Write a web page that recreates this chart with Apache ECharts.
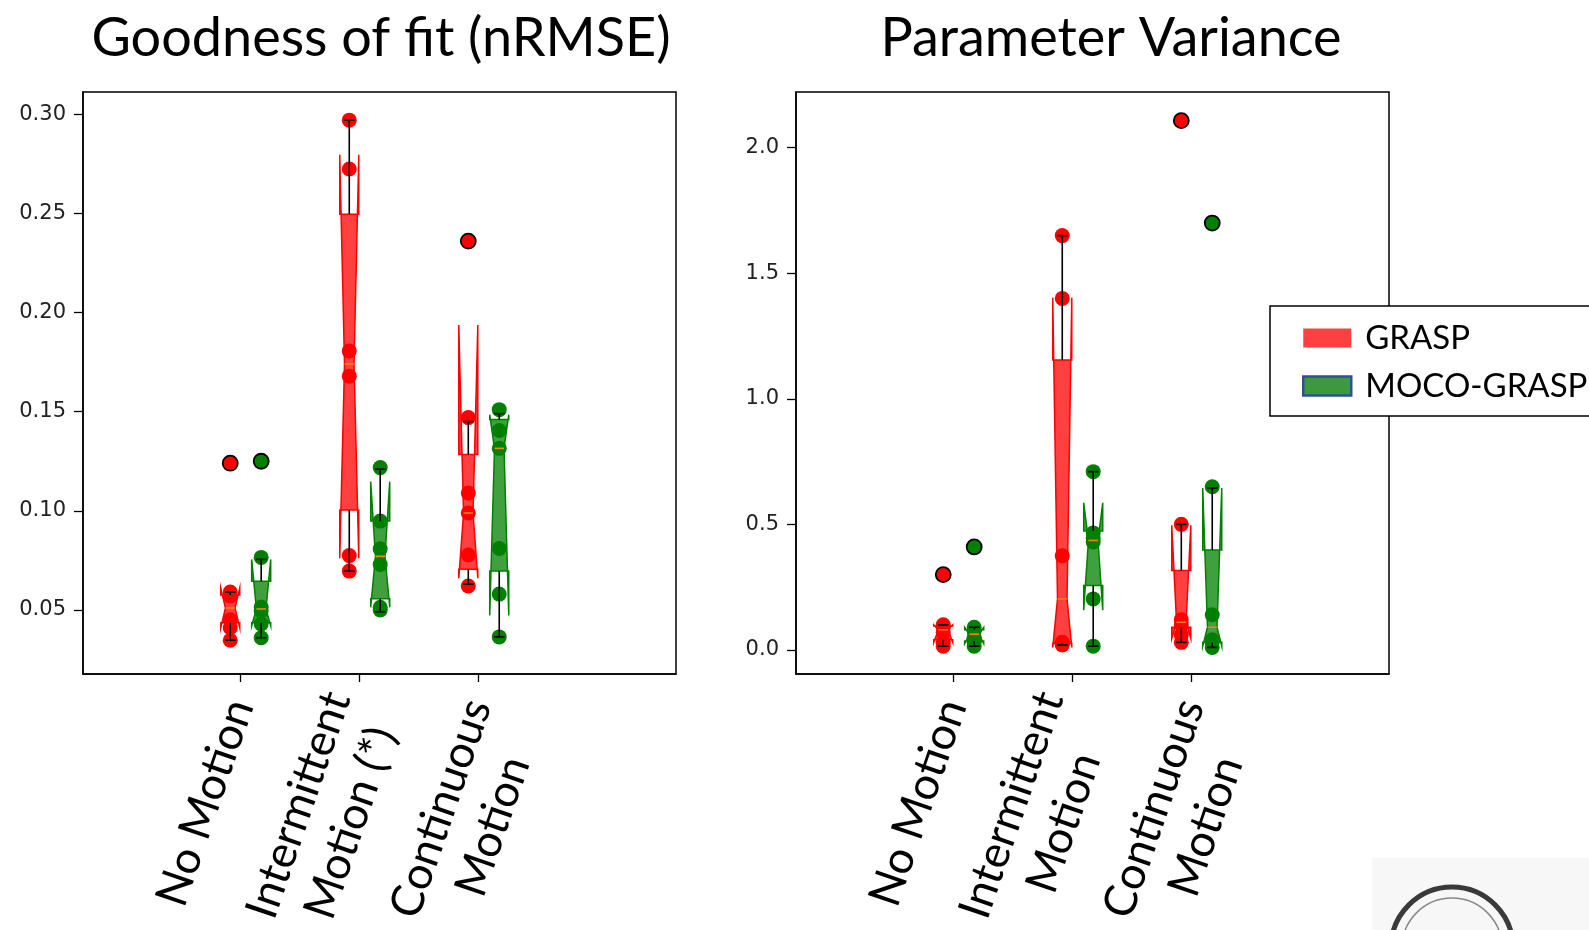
<!DOCTYPE html>
<html>
<head>
<meta charset="utf-8">
<script src="https://cdn.jsdelivr.net/npm/echarts@6/dist/echarts.min.js"></script>
<style>
html, body { margin: 0; padding: 0; background: #fff; }
#main { width: 1589px; height: 930px; }
</style>
</head>
<body>
<div id="main"></div>
<script>
// categories / tick labels
var fitCats = ['No Motion', 'Intermittent\nMotion (*)', 'Continuous\nMotion'];
var varCats = ['No Motion', 'Intermittent\nMotion', 'Continuous\nMotion'];
var groupNames = ['GRASP', 'MOCO-GRASP'];
var fitTicks = [0.05, 0.10, 0.15, 0.20, 0.25, 0.30];
var varTicks = [0.0, 0.5, 1.0, 1.5, 2.0];

// box stats per category: [whiskerLow, q1, median, q3, whiskerHigh, notchLow, notchHigh]
var fitGraspBox = [
    [0.0347, 0.0435, 0.0510, 0.0575, 0.0590, 0.0410, 0.0610],
    [0.0696, 0.1004, 0.1740, 0.2496, 0.2970, 0.0761, 0.2795],
    [0.0630, 0.0705, 0.0989, 0.1284, 0.1450, 0.0660, 0.1937]
];
var fitMocoBox = [
    [0.0360, 0.0435, 0.0505, 0.0645, 0.0755, 0.0420, 0.0755],
    [0.0491, 0.0556, 0.0771, 0.0948, 0.1210, 0.0513, 0.1147],
    [0.0364, 0.0696, 0.1315, 0.1460, 0.1490, 0.0472, 0.1485]
];
// individual points and fliers
var fitGraspPts = [
    [0.059, 0.057, 0.045, 0.041, 0.0347],
    [0.297, 0.2724, 0.1806, 0.1679, 0.0774, 0.0696],
    [0.147, 0.109, 0.0989, 0.0777, 0.0621]
];
var fitMocoPts = [
    [0.0765, 0.0515, 0.0495, 0.043, 0.036],
    [0.1218, 0.0948, 0.0808, 0.0729, 0.0513, 0.050],
    [0.151, 0.1405, 0.1315, 0.081, 0.058, 0.0364]
];
var fitGraspFliers = [[0.124], [], [0.236]];
var fitMocoFliers = [[0.125], [], []];

var varGraspBox = [
    [0.015, 0.040, 0.080, 0.095, 0.100, 0.030, 0.100],
    [0.020, 0.025, 0.203, 1.155, 1.650, 0.010, 1.403],
    [0.030, 0.090, 0.110, 0.316, 0.500, 0.045, 0.496]
];
var varMocoBox = [
    [0.015, 0.035, 0.0625, 0.080, 0.090, 0.025, 0.090],
    [0.015, 0.256, 0.436, 0.474, 0.710, 0.158, 0.586],
    [0.010, 0.030, 0.090, 0.398, 0.645, 0.015, 0.645]
];
var varGraspPts = [
    [0.10, 0.09, 0.07, 0.03, 0.015],
    [1.65, 1.40, 0.375, 0.03, 0.025, 0.02],
    [0.50, 0.12, 0.10, 0.06, 0.03]
];
var varMocoPts = [
    [0.09, 0.075, 0.05, 0.03, 0.015],
    [0.71, 0.466, 0.445, 0.43, 0.203, 0.015],
    [0.65, 0.14, 0.04, 0.03, 0.01]
];
var varGraspFliers = [[0.30], [], [2.108]];
var varMocoFliers = [[0.41], [], [1.70]];

var RED = '#ff0000', GREEN = '#008000';
var RED_FILL = 'rgba(255,0,0,0.75)', GREEN_FILL = 'rgba(0,128,0,0.75)';
var OFF = [-0.085, 0.175];   // x shift of the two groups inside a category
var BOX_W = 0.16, CAP_W = 0.09;
var LABEL_SPACER = [0, 8, 54]; // pushes a rotated label block sideways (px)

function boxData(stats, off) {
    return stats.map(function (s, i) {
        return [i + 1 + off].concat(s);
    });
}

function pointData(pts, off) {
    var res = [];
    pts.forEach(function (list, i) {
        list.forEach(function (v) { res.push([i + 1 + off, v]); });
    });
    return res;
}

function boxRenderer(edge, fill) {
    return function (params, api) {
        var x = api.value(0);
        var wl = api.value(1), q1 = api.value(2), med = api.value(3), q3 = api.value(4),
            wh = api.value(5), nlo = api.value(6), nhi = api.value(7);
        var hw = BOX_W / 2;
        var L = x - hw, R = x + hw, cl = x - hw / 2, cr = x + hw / 2;
        function c(xx, v) { return api.coord([xx, v]); }
        function seg(a, b, color) {
            return { type: 'line', shape: { x1: a[0], y1: a[1], x2: b[0], y2: b[1] },
                     style: { stroke: color, lineWidth: 1.6 } };
        }
        var poly = [c(L, q1), c(L, nlo), c(cl, med), c(L, nhi), c(L, q3),
                    c(R, q3), c(R, nhi), c(cr, med), c(R, nlo), c(R, q1)];
        return {
            type: 'group',
            children: [
                { type: 'polygon', shape: { points: poly }, style: { fill: fill, stroke: edge, lineWidth: 1.5 } },
                seg(c(x, q3), c(x, wh), '#000'),
                seg(c(x, q1), c(x, wl), '#000'),
                seg(c(x - CAP_W / 2, wh), c(x + CAP_W / 2, wh), '#000'),
                seg(c(x - CAP_W / 2, wl), c(x + CAP_W / 2, wl), '#000'),
                seg(c(cl, med), c(cr, med), '#ff7f0e')
            ]
        };
    };
}

function catFormatter(cats) {
    return function (v) {
        var i = Math.round(v) - 1;
        var lab = cats[i];
        if (!lab) return '';
        var lines = lab.split('\n').map(function (s) { return '{c|' + s + '}'; });
        if (LABEL_SPACER[i]) lines.unshift('{s' + i + '| }');
        return lines.join('\n');
    };
}

function xAxisFor(gi, cats) {
    var rich = { c: { fontFamily: 'Lato', fontSize: 45, lineHeight: 55, color: '#000', align: 'center' } };
    LABEL_SPACER.forEach(function (h, i) {
        rich['s' + i] = { fontSize: 2, lineHeight: h, color: 'rgba(0,0,0,0)' };
    });
    return {
        type: 'value', gridIndex: gi, min: -0.322, max: 4.66,
        splitLine: { show: false },
        axisLine: { show: true, onZero: false, lineStyle: { color: '#000', width: 1.5 } },
        axisTick: { show: true, length: 8, customValues: [1, 2, 3], lineStyle: { color: '#000', width: 1.3 } },
        axisLabel: {
            customValues: [1, 2, 3], rotate: 71, margin: 27,
            showMinLabel: true, showMaxLabel: true, hideOverlap: false,
            formatter: catFormatter(cats), rich: rich
        }
    };
}

function yAxisFor(gi, min, max, ticks, digits) {
    return {
        type: 'value', gridIndex: gi, min: min, max: max,
        splitLine: { show: false },
        axisLine: { show: true, onZero: false, lineStyle: { color: '#000', width: 1.5 } },
        axisTick: { show: true, length: 9, customValues: ticks, lineStyle: { color: '#000', width: 1.3 } },
        axisLabel: {
            customValues: ticks, margin: 17, showMinLabel: true, showMaxLabel: true,
            fontFamily: 'DejaVu Sans', fontSize: 21, color: '#222',
            formatter: function (v) { return v.toFixed(digits); }
        }
    };
}

function gridFor(left) {
    return { left: left, top: 92, width: 593, height: 582, show: true, borderColor: '#000', borderWidth: 1.5,
             backgroundColor: '#fff', outerBoundsMode: 'none', containLabel: false };
}

function scatterFor(name, ai, data, color, flier) {
    return { name: name, type: 'scatter', xAxisIndex: ai, yAxisIndex: ai, symbolSize: 15, z: flier ? 4 : 2,
             itemStyle: flier ? { color: color, borderColor: '#000', borderWidth: 1.8, opacity: 1 } : { color: color, opacity: 1 },
             data: data };
}

function boxSeries(name, ai, stats, off, edge, fill, legendColor) {
    return { name: name, type: 'custom', xAxisIndex: ai, yAxisIndex: ai, z: 3,
             itemStyle: { color: legendColor }, renderItem: boxRenderer(edge, fill),
             encode: { x: 0, y: [1, 2, 3, 4, 5, 6, 7] }, data: boxData(stats, off) };
}

var chart = echarts.init(document.getElementById('main'));

var option = {
    animation: false,
    backgroundColor: '#fff',
    title: [
        { text: 'Goodness of fit (nRMSE)', left: 376, top: 7, textAlign: 'center',
          textStyle: { fontFamily: 'Lato', fontSize: 54, fontWeight: 'normal', color: '#000' } },
        { text: 'Parameter Variance', left: 1106, top: 7, textAlign: 'center',
          textStyle: { fontFamily: 'Lato', fontSize: 54, fontWeight: 'normal', color: '#000' } }
    ],
    grid: [gridFor(83), gridFor(796)],
    xAxis: [xAxisFor(0, fitCats), xAxisFor(1, varCats)],
    yAxis: [
        yAxisFor(0, 0.0177, 0.3112, fitTicks, 2),
        yAxisFor(1, -0.096, 2.222, varTicks, 1)
    ],
    legend: {
        orient: 'vertical', left: 1270, top: 306,
        backgroundColor: '#fff', borderColor: '#000', borderWidth: 1.5,
        padding: [12, 30, 10, 32], itemGap: 8,
        itemWidth: 48, itemHeight: 19, icon: 'rect', selectedMode: false,
        textStyle: { fontFamily: 'Lato', fontSize: 33, lineHeight: 40, color: '#000', padding: [0, 0, 0, 9] },
        data: [
            { name: groupNames[0], itemStyle: { color: '#ff4040', borderWidth: 0, opacity: 1 } },
            { name: groupNames[1], itemStyle: { color: '#3c9a3c', borderColor: '#2f528f', borderWidth: 2.5, opacity: 1 } }
        ],
        z: 10
    },
    graphic: [
        { type: 'rect', left: 1372, top: 858, shape: { width: 217, height: 72 }, style: { fill: '#f7f7f7' }, z: -1 },
        { type: 'circle', shape: { cx: 1452, cy: 948, r: 61 }, style: { fill: 'none', stroke: '#3a3a3a', lineWidth: 5 }, z: 1 },
        { type: 'circle', shape: { cx: 1452, cy: 948, r: 50 }, style: { fill: 'none', stroke: '#888', lineWidth: 1.5 }, z: 1 }
    ],
    series: [
        scatterFor(groupNames[0], 0, pointData(fitGraspPts, OFF[0]), RED, false),
        scatterFor(groupNames[1], 0, pointData(fitMocoPts, OFF[1]), GREEN, false),
        scatterFor(groupNames[0], 1, pointData(varGraspPts, OFF[0]), RED, false),
        scatterFor(groupNames[1], 1, pointData(varMocoPts, OFF[1]), GREEN, false),
        boxSeries(groupNames[0], 0, fitGraspBox, OFF[0], RED, RED_FILL, '#ff4040'),
        boxSeries(groupNames[1], 0, fitMocoBox, OFF[1], GREEN, GREEN_FILL, '#3c9a3c'),
        boxSeries(groupNames[0], 1, varGraspBox, OFF[0], RED, RED_FILL, '#ff4040'),
        boxSeries(groupNames[1], 1, varMocoBox, OFF[1], GREEN, GREEN_FILL, '#3c9a3c'),
        scatterFor(groupNames[0], 0, pointData(fitGraspFliers, OFF[0]), RED, true),
        scatterFor(groupNames[1], 0, pointData(fitMocoFliers, OFF[1]), GREEN, true),
        scatterFor(groupNames[0], 1, pointData(varGraspFliers, OFF[0]), RED, true),
        scatterFor(groupNames[1], 1, pointData(varMocoFliers, OFF[1]), GREEN, true)
    ]
};

chart.setOption(option);
</script>
</body>
</html>
